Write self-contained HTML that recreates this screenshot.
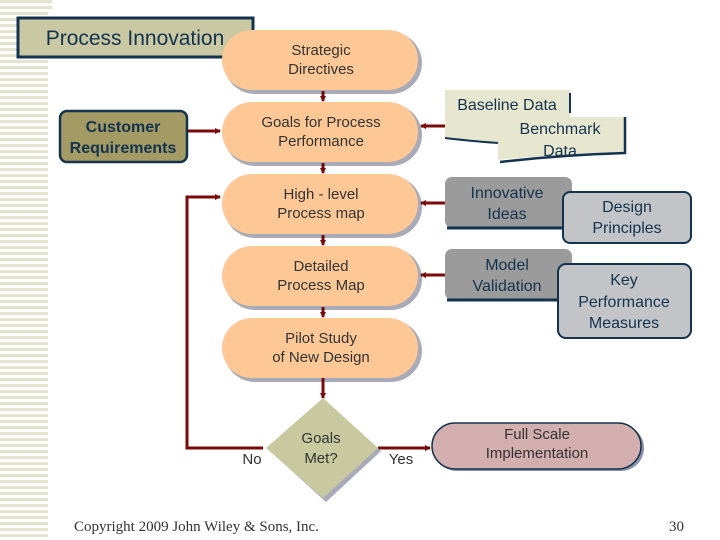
<!DOCTYPE html>
<html><head><meta charset="utf-8"><style>
body{margin:0;width:720px;height:540px;background:#fff;overflow:hidden}
svg{display:block}
text{font-family:"Liberation Sans",sans-serif}
</style></head><body>
<svg width="720" height="540" viewBox="0 0 720 540" xmlns="http://www.w3.org/2000/svg">
<defs>
<pattern id="st" width="48" height="6" patternUnits="userSpaceOnUse">
<rect width="48" height="6" fill="#fff"/><rect width="48" height="3" fill="#e4e3cf"/></pattern>
<marker id="ah" markerWidth="6" markerHeight="6" refX="5" refY="3" orient="auto" markerUnits="userSpaceOnUse"><path d="M0,0 L6,3 L0,6z" fill="#7a0a0a"/></marker>
</defs>
<rect x="0" y="0" width="48" height="540" fill="url(#st)"/>
<rect x="0" y="0" width="52" height="12" fill="url(#st)"/>
<!-- title -->
<rect x="18" y="18" width="235" height="39" fill="#c9c8a3" stroke="#13334f" stroke-width="3"/>
<text x="135" y="45" font-size="21" text-anchor="middle" fill="#13334f">Process Innovation</text>
<!-- pills -->
<g fill="#fdc896" stroke="#9aa0b0" stroke-width="0">
<rect x="224" y="32" width="198" height="62" rx="31" fill="#a8aab8"/>
<rect x="222" y="30" width="196" height="60" rx="30"/>
<rect x="224" y="104" width="198" height="62" rx="31" fill="#a8aab8"/>
<rect x="222" y="102" width="196" height="60" rx="30"/>
<rect x="224" y="176" width="198" height="62" rx="31" fill="#a8aab8"/>
<rect x="222" y="174" width="196" height="60" rx="30"/>
<rect x="224" y="248" width="198" height="62" rx="31" fill="#a8aab8"/>
<rect x="222" y="246" width="196" height="60" rx="30"/>
<rect x="224" y="320" width="198" height="62" rx="31" fill="#a8aab8"/>
<rect x="222" y="318" width="196" height="60" rx="30"/>
</g>
<g font-size="15" fill="#333" text-anchor="middle">
<text x="321" y="55">Strategic</text><text x="321" y="74">Directives</text>
<text x="321" y="127">Goals for Process</text><text x="321" y="146">Performance</text>
<text x="321" y="199">High - level</text><text x="321" y="218">Process map</text>
<text x="321" y="271">Detailed</text><text x="321" y="290">Process Map</text>
<text x="321" y="343">Pilot Study</text><text x="321" y="362">of New Design</text>
</g>
<!-- vertical arrows -->
<g stroke="#7a0a0a" stroke-width="3" fill="none" marker-end="url(#ah)">
<line x1="323" y1="91" x2="323" y2="101"/>
<line x1="323" y1="163" x2="323" y2="173"/>
<line x1="323" y1="235" x2="323" y2="245"/>
<line x1="323" y1="307" x2="323" y2="317"/>
<line x1="323" y1="378" x2="323" y2="398"/>
<line x1="187" y1="131" x2="220" y2="131"/>
<polyline points="263,448 187,448 187,197 220,197"/>
<line x1="378" y1="448" x2="430" y2="448"/>
<line x1="445" y1="126" x2="421" y2="126"/>
<line x1="445" y1="203" x2="421" y2="203"/>
<line x1="445" y1="275" x2="421" y2="275"/>
</g>
<!-- customer -->
<rect x="60" y="111" width="127" height="51" rx="7" fill="#a39b63" stroke="#13334f" stroke-width="2.5"/>
<text x="123" y="132" font-size="16" font-weight="bold" fill="#13334f" text-anchor="middle">Customer</text>
<text x="123" y="153" font-size="16" font-weight="bold" fill="#13334f" text-anchor="middle">Requirements</text>
<!-- baseline / benchmark -->
<path d="M445,90 L570,90 L570,140 Q510,146 445,138 Z" fill="#e7e6cf"/>
<line x1="570" y1="93" x2="570" y2="113" stroke="#13334f" stroke-width="2"/>
<path d="M445,138 Q480,142 500,143" stroke="#13334f" stroke-width="2" fill="none"/>
<text x="507" y="110" font-size="16" fill="#13334f" text-anchor="middle">Baseline Data</text>
<path d="M498,117 L625,117 L625,152 Q560,154 498,160 Z" fill="#e7e6cf" stroke="#13334f" stroke-width="0"/>
<path d="M625,117 L625,153 Q560,155 500,162" stroke="#13334f" stroke-width="2.5" fill="none"/>
<text x="560" y="134" font-size="16" fill="#13334f" text-anchor="middle">Benchmark</text>
<text x="560" y="156" font-size="16" fill="#13334f" text-anchor="middle">Data</text>
<!-- gray boxes -->
<rect x="445" y="177" width="127" height="51" rx="7" fill="#9b9b9b" stroke="#13334f" stroke-width="0"/>
<path d="M447,228 L570,228" stroke="#13334f" stroke-width="3"/>
<text x="507" y="198" font-size="16" fill="#13334f" text-anchor="middle">Innovative</text>
<text x="507" y="219" font-size="16" fill="#13334f" text-anchor="middle">Ideas</text>
<rect x="563" y="192" width="128" height="51" rx="7" fill="#c2c4c7" stroke="#13334f" stroke-width="2"/>
<text x="627" y="212" font-size="16" fill="#13334f" text-anchor="middle">Design</text>
<text x="627" y="233" font-size="16" fill="#13334f" text-anchor="middle">Principles</text>
<rect x="445" y="249" width="127" height="51" rx="7" fill="#9b9b9b"/>
<path d="M447,300 L558,300" stroke="#13334f" stroke-width="3"/>
<text x="507" y="270" font-size="16" fill="#13334f" text-anchor="middle">Model</text>
<text x="507" y="291" font-size="16" fill="#13334f" text-anchor="middle">Validation</text>
<rect x="558" y="264" width="133" height="74" rx="8" fill="#c2c4c7" stroke="#13334f" stroke-width="2"/>
<text x="624" y="285" font-size="16" fill="#13334f" text-anchor="middle">Key</text>
<text x="624" y="307" font-size="16" fill="#13334f" text-anchor="middle">Performance</text>
<text x="624" y="328" font-size="16" fill="#13334f" text-anchor="middle">Measures</text>
<!-- diamond -->
<polygon points="326,401 381,451 326,502 270,451" fill="#a8aab8"/>
<polygon points="323,398 378,448 323,498 266,448" fill="#c9c9a0"/>
<text x="321" y="443" font-size="15" fill="#333" text-anchor="middle">Goals</text>
<text x="321" y="463" font-size="15" fill="#333" text-anchor="middle">Met?</text>
<text x="252" y="464" font-size="15" fill="#333" text-anchor="middle">No</text>
<text x="401" y="464" font-size="15" fill="#333" text-anchor="middle">Yes</text>
<!-- full scale -->
<rect x="434" y="425" width="210" height="46" rx="23" fill="#8a90a8"/>
<rect x="432" y="423" width="209" height="46" rx="23" fill="#d2aeae" stroke="#13334f" stroke-width="1.5"/>
<text x="537" y="439" font-size="15" fill="#333" text-anchor="middle">Full Scale</text>
<text x="537" y="458" font-size="15" fill="#333" text-anchor="middle">Implementation</text>
<text x="74" y="531" font-size="15" font-family="Liberation Serif,serif" fill="#333" style="font-family:'Liberation Serif',serif">Copyright 2009 John Wiley &amp; Sons, Inc.</text>
<text x="684" y="531" font-size="15" text-anchor="end" fill="#333" style="font-family:'Liberation Serif',serif">30</text>
</svg>
</body></html>
